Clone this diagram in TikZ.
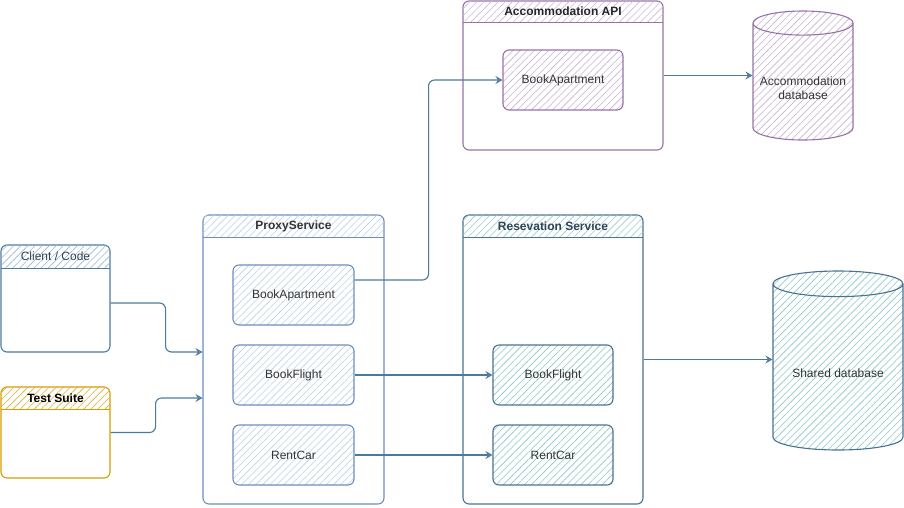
\documentclass[tikz,border=0pt]{standalone}
\usepackage{fontspec}
\setmainfont{Liberation Sans}
\usetikzlibrary{positioning,arrows.meta,shapes.geometric,patterns.meta}
\definecolor{cblue}{HTML}{4F7A9C}
\definecolor{pblue}{HTML}{6C8EBF}
\definecolor{phatch}{HTML}{BCD0EA}
\definecolor{rblue}{HTML}{4A7190}
\definecolor{purp}{HTML}{9673A6}
\definecolor{oran}{HTML}{D79B00}
\definecolor{lnk}{HTML}{4A7B9D}
\definecolor{txt}{HTML}{333333}

\begin{document}
\begin{tikzpicture}[x=1pt, y=1pt, >={Stealth[open,width=8pt,length=7pt,inset=2.5pt]}, font=\fontsize{12}{14}\selectfont, text=txt,
	box/.style={draw=#1, rounded corners=6pt, line width=1.1pt, inner sep=0pt},
	hatch/.style={pattern={Lines[angle=45,distance=5pt,line width=0.6pt]}, pattern color=#1},
	head/.style={hatch=#1, rounded corners=6pt, minimum height=23pt, inner sep=0pt},
	db/.style={cylinder, shape border rotate=90, draw=#1, line width=1.1pt, aspect=0.28, inner sep=0pt, anchor=shape center},
	link/.style={->, draw=lnk, line width=1.1pt, rounded corners=6pt}]
	\useasboundingbox (0,0) rectangle (904,-507);
	% frames
	\draw (55.5, -298.5)node[box=cblue, minimum width=109pt, minimum height=107pt](cl){};
	\draw (55.5, -432.5)node[box=oran, minimum width=109pt, minimum height=91pt](ts){};
	\draw (293.5, -359.5)node[box=pblue, minimum width=181pt, minimum height=289pt](ps){};
	\draw (553.0, -359.5)node[box=rblue, minimum width=180pt, minimum height=289pt](rs){};
	\draw (563.0, -75.5)node[box=purp, minimum width=200pt, minimum height=149pt](api){};
	% headers
	\draw (cl.north)node[head=cblue!55, anchor=north, minimum width=109pt, text=rblue!60!black](clh){Client / Code};
	\draw (ts.north)node[head=oran!80, anchor=north, minimum width=109pt, text=black](tsh){\textbf{Test Suite}};
	\draw (ps.north)node[head=phatch, anchor=north, minimum width=181pt](psh){\textbf{ProxyService}};
	\draw (rs.north)node[head=teal!40, anchor=north, minimum width=180pt, text=rblue!60!black](rsh){\textbf{Resevation Service}};
	\draw (api.north)node[head=purp!50, anchor=north, minimum width=200pt, minimum height=22pt, text=black!85](apih){\textbf{Accommodation API}};
	\draw[cblue, line width=1.1pt] (clh.south west) -- (clh.south east);
	\draw[oran, line width=1.1pt] (tsh.south west) -- (tsh.south east);
	\draw[pblue, line width=1.1pt] (psh.south west) -- (psh.south east);
	\draw[rblue, line width=1.1pt] (rsh.south west) -- (rsh.south east);
	\draw[purp, line width=1.1pt] (apih.south west) -- (apih.south east);
	% inner boxes
	\draw (293.5, -295.0)node[box=pblue, hatch=phatch, minimum width=121pt, minimum height=60pt](pa){BookApartment};
	\draw (293.5, -375.0)node[box=pblue, hatch=phatch, minimum width=121pt, minimum height=60pt](pf){BookFlight};
	\draw (293.5, -455.0)node[box=pblue, hatch=phatch, minimum width=121pt, minimum height=60pt](pr){RentCar};
	\draw (553.0, -375.0)node[box=rblue, hatch=teal!45, minimum width=120pt, minimum height=60pt](rf){BookFlight};
	\draw (553.0, -455.0)node[box=rblue, hatch=teal!45, minimum width=120pt, minimum height=60pt](rr){RentCar};
	\draw (563.0, -80.0)node[box=purp, hatch=purp!55, minimum width=120pt, minimum height=60pt](aa){BookApartment};
	% databases
	\draw (803.0, -75.5)node[db=purp, hatch=purp!55, minimum width=100pt, minimum height=129pt, align=center, text height=53pt, text depth=17pt](adb){Accommodation\\database};
	\draw (838.0, -360.5)node[db=rblue, hatch=teal!45, minimum width=130pt, minimum height=179pt, text height=23pt, text depth=3pt](sdb){Shared database};
	% links
	\draw[link] ([yshift=-4.5pt]cl.east) -- ++(55,0) |- ([yshift=7.5pt]ps.west);
	\draw[link] (ts.east) -- ++(45,0) |- ([yshift=-38.5pt]ps.west);
	\draw[link] ([yshift=15pt]pa.east) -- ++(74,0) |- (aa.west);
	\path[link] (pf) edge (rf);
	\path[link] (pr) edge (rr);
	\draw[link] (api.east) -- (api.east -| adb.west);
	\draw[link] (rs.east) -- (rs.east -| sdb.west);
\end{tikzpicture}
\end{document}
